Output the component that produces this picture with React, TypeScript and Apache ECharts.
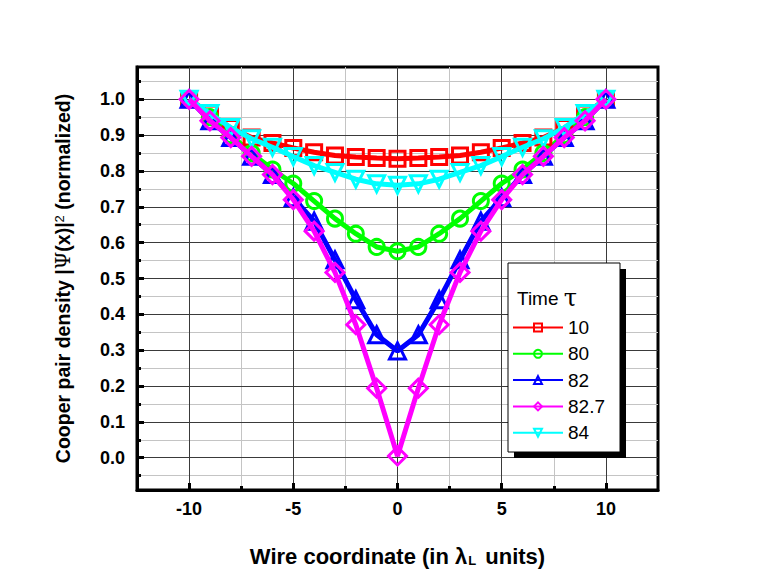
import React, { useEffect, useRef } from 'react';
import * as echarts from 'echarts';

const xValues = [-10, -9, -8, -7, -6, -5, -4, -3, -2, -1, 0, 1, 2, 3, 4, 5, 6, 7, 8, 9, 10];
const tau10 = [1.0, 0.96, 0.92, 0.893, 0.878, 0.864, 0.852, 0.843, 0.839, 0.836, 0.834, 0.836, 0.839, 0.843, 0.852, 0.864, 0.878, 0.893, 0.92, 0.96, 1.0];
const tau80 = [1.0, 0.95, 0.9, 0.85, 0.804, 0.765, 0.716, 0.667, 0.625, 0.588, 0.576, 0.588, 0.625, 0.667, 0.716, 0.765, 0.804, 0.85, 0.9, 0.95, 1.0];
const tau82 = [1.0, 0.94, 0.893, 0.841, 0.79, 0.725, 0.66, 0.552, 0.441, 0.343, 0.298, 0.343, 0.441, 0.552, 0.66, 0.725, 0.79, 0.841, 0.893, 0.94, 1.0];
const tau827 = [1.0, 0.94, 0.893, 0.841, 0.79, 0.72, 0.632, 0.517, 0.371, 0.194, 0.005, 0.194, 0.371, 0.517, 0.632, 0.72, 0.79, 0.841, 0.893, 0.94, 1.0];
const tau84 = [1.0, 0.96, 0.921, 0.89, 0.866, 0.84, 0.815, 0.796, 0.777, 0.764, 0.76, 0.764, 0.777, 0.796, 0.815, 0.84, 0.866, 0.89, 0.921, 0.96, 1.0];

const seriesNames = ['10', '80', '82', '82.7', '84'];
const seriesColors = ['#ff0000', '#00ff00', '#0000ff', '#ff00ff', '#00ffff'];

const xMajorTicks = [-10, -5, 0, 5, 10];
const xMinorTicks = [-7.5, -2.5, 2.5, 7.5];
const yMajorTicks = [0, 0.1, 0.2, 0.3, 0.4, 0.5, 0.6, 0.7, 0.8, 0.9, 1.0];
const yMinorTicks = [-0.05, 0.05, 0.15, 0.25, 0.35, 0.45, 0.55, 0.65, 0.75, 0.85, 0.95, 1.05];

const FONT = "'Liberation Sans', Arial, sans-serif";

export default function App() {
  const ref = useRef<HTMLDivElement>(null);
  useEffect(() => {
    if (!ref.current) return;
    const chart = echarts.init(ref.current, undefined, { renderer: 'svg' });
    const mk = (vals: number[]) => xValues.map((x, i) => [x, vals[i]]);
    const datasets = [tau10, tau80, tau82, tau827, tau84];
    const symbols = ['rect', 'circle', 'triangle', 'diamond', 'triangle'];
    const sizes = [15, 15, 16, 18, 16];
    const rotates = [0, 0, 0, 0, 180];
    const zs = [2, 2, 2, 4, 3];

    const xCommon = {
      type: 'value',
      min: -12.5,
      max: 12.5,
      position: 'bottom',
    };
    const yCommon = {
      type: 'value',
      min: -0.09,
      max: 1.09,
      position: 'left',
    };

    chart.setOption({
      animation: false,
      backgroundColor: '#ffffff',
      grid: {
        left: 137,
        right: 105,
        top: 67,
        bottom: 98,
        show: true,
        borderColor: '#000',
        borderWidth: 3,
        backgroundColor: 'transparent',
        containLabel: false,
      },
      xAxis: [
        {
          ...xCommon,
          name: '{b|Wire coordinate (in }{l|λ}{s|L}{b| units)}',
          nameLocation: 'middle',
          nameGap: 55,
          nameTextStyle: {
            rich: {
              b: { fontFamily: FONT, fontWeight: 'bold', fontSize: 22, color: '#000' },
              l: { fontFamily: FONT, fontWeight: 'bold', fontSize: 22, color: '#000' },
              s: { fontFamily: FONT, fontWeight: 'bold', fontSize: 13, color: '#000', verticalAlign: 'bottom', padding: [0, 3, 0, 1] },
            },
          },
          axisLine: { show: true, onZero: false, lineStyle: { color: '#000', width: 3 } },
          axisTick: { show: true, inside: true, length: 7, lineStyle: { color: '#000', width: 3 }, customValues: xMajorTicks },
          axisLabel: {
            customValues: xMajorTicks,
            margin: 10,
            fontFamily: FONT,
            fontWeight: 'bold',
            fontSize: 18,
            color: '#000',
            formatter: (v: number) => String(v),
          },
          splitLine: { show: true, lineStyle: { color: '#3a3a3a', width: 1 } },
          z: 1,
        },
        {
          ...xCommon,
          axisLine: { show: false, onZero: false },
          axisTick: { show: true, inside: true, length: 4, lineStyle: { color: '#000', width: 3 }, customValues: xMinorTicks },
          axisLabel: { show: false },
          splitLine: { show: true, lineStyle: { color: '#c4c4c4', width: 1 } },
          z: 0,
        },
      ],
      yAxis: [
        {
          ...yCommon,
          name: '{b|Cooper pair density |}{p|Ψ}{b|(x)|}{sup|2}{b| (normalized)}',
          nameLocation: 'middle',
          nameGap: 64,
          nameRotate: 90,
          nameTextStyle: {
            rich: {
              b: { fontFamily: FONT, fontWeight: 'bold', fontSize: 19.5, color: '#000' },
              p: { fontFamily: "'DejaVu Serif', serif", fontWeight: 'normal', fontSize: 20, color: '#000' },
              sup: { fontFamily: FONT, fontWeight: 'normal', fontSize: 13, color: '#000', verticalAlign: 'top' },
            },
          },
          axisLine: { show: true, onZero: false, lineStyle: { color: '#000', width: 3 } },
          axisTick: { show: true, inside: true, length: 7, lineStyle: { color: '#000', width: 3 }, customValues: yMajorTicks },
          axisLabel: {
            customValues: yMajorTicks,
            margin: 12,
            fontFamily: FONT,
            fontWeight: 'bold',
            fontSize: 18,
            color: '#000',
            formatter: (v: number) => v.toFixed(1),
          },
          splitLine: { show: true, lineStyle: { color: '#3a3a3a', width: 1 } },
          z: 1,
        },
        {
          ...yCommon,
          axisLine: { show: false, onZero: false },
          axisTick: { show: true, inside: true, length: 4, lineStyle: { color: '#000', width: 3 }, customValues: yMinorTicks },
          axisLabel: { show: false },
          splitLine: { show: true, lineStyle: { color: '#c4c4c4', width: 1 } },
          z: 0,
        },
      ],
      legend: {
        orient: 'vertical',
        left: 512,
        top: 318,
        padding: 0,
        itemWidth: 50,
        itemHeight: 10,
        itemGap: 7.3,
        z: 20,
        textStyle: { fontFamily: FONT, fontSize: 19, color: '#000' },
        data: seriesNames,
      },
      graphic: [
        {
          type: 'rect',
          z: 15,
          shape: { x: 514, y: 269, width: 112, height: 189 },
          style: { fill: '#000' },
        },
        {
          type: 'rect',
          z: 16,
          shape: { x: 508, y: 263, width: 112, height: 189 },
          style: { fill: '#fff', stroke: '#000', lineWidth: 1 },
        },
        {
          type: 'text',
          z: 17,
          x: 517,
          y: 298,
          style: {
            text: '{a|Time }{t|τ}',
            verticalAlign: 'middle',
            rich: {
              a: { fontFamily: FONT, fontSize: 19, fill: '#000' },
              t: { fontFamily: "'DejaVu Serif', serif", fontSize: 24, fill: '#000' },
            },
          },
        },
      ],
      series: datasets.map((vals, i) => ({
        type: 'line',
        name: seriesNames[i],
        data: mk(vals),
        xAxisIndex: 0,
        yAxisIndex: 0,
        z: zs[i],
        symbol: symbols[i],
        symbolSize: sizes[i],
        symbolRotate: rotates[i],
        showAllSymbol: true,
        lineStyle: { color: seriesColors[i], width: 5 },
        itemStyle: { color: 'rgba(255,255,255,0)', borderColor: seriesColors[i], borderWidth: 3 },
        emphasis: { disabled: true },
      })),
    });
    return () => chart.dispose();
  }, []);
  return <div ref={ref} style={{ position: 'fixed', left: 0, top: 0, width: 763, height: 588 }} />;
}
